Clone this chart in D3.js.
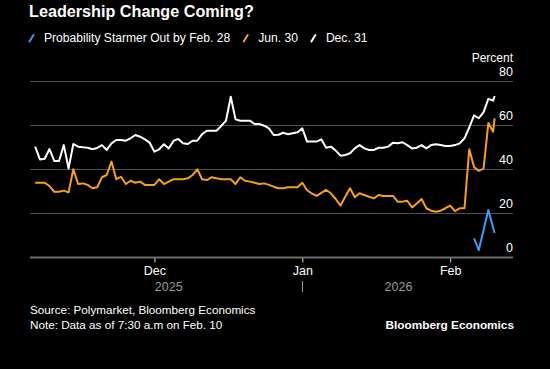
<!DOCTYPE html>
<html><head><meta charset="utf-8">
<script src="https://cdn.jsdelivr.net/npm/d3@7"></script>
<style>html,body{margin:0;padding:0;background:#000;}svg{display:block}</style>
</head><body>
<svg id="chart" width="550" height="369"></svg>
<script>
// ---------- DATA ----------
const startDate = "2025-11-06";          // first daily observation
const lastStamp = "2026-02-10T07:30";    // final intraday observation
// Dec. 31 series (daily Nov 6 .. Feb 10, then Feb 10 07:30)
const dec31Vals = [
  50.3,44.5,44.8,49.2,43.8,43.8,51,40.4,51.5,50.3,50,49.8,49.1,49.7,51,48.8,51.8,53.3,53.3,53,54.1,55.6,54.8,53.6,52.1,
  48,49.1,51.4,49.5,52.9,53.8,51.8,51.5,53,53,56,57.5,57.5,57.5,59.7,62.1,73,62.7,62.1,62.1,62.1,60.6,60.6,59.8,58.6,55.6,55.7,56.6,55.9,56.4,56.8,
  58.6,52.6,52.6,52.6,53.6,49.8,50.3,48.5,46.2,46.5,47.3,49.5,51,49.5,48.8,48.8,49.8,49.8,50.3,52.1,51.8,52.3,51,49.5,49.8,51,49.5,51,51.4,51,50.6,
  50.6,51,51.8,54.1,59,64.5,63.2,66,72,71.2,
  73.3
];
// Jun. 30 series
const jun30Vals = [
  33.9,33.9,33.9,32.4,29.8,29.8,30.3,29.5,40,33.3,33.6,32.9,31.4,31.8,36.4,37.4,43.5,35.5,36.6,33.3,34.8,33.9,34.4,32.9,32.9,
  32.9,35.5,33.3,34.4,35.5,35.5,35.5,35.9,37.4,40,35.5,35.1,36.4,35.9,35.5,35.5,35.5,33.3,36.4,34.8,34.4,33.9,33.3,33.6,32.9,32.1,31.4,31.4,31.8,31.8,31.8,
  33.9,30.5,29,27.9,29.3,30.6,29.1,26.5,23.5,27.5,31.4,27.3,29.1,28.3,27.5,26.8,28.3,27.9,27.9,27.9,25.3,25.3,25.7,22.7,24.5,26.5,22.3,21.2,20.7,21.2,22.3,
  23.5,21,22.3,22.3,49.1,41,39.3,40.3,61,57.1,
  63.2
];
// Feb. 28 series (only recent)
const feb28Dates = ["2026-02-06T00:00","2026-02-07T00:00","2026-02-09T00:00","2026-02-10T07:30"];
const feb28Vals = [8.6,3.3,21.5,11];

const yTicks = [0,20,40,60,80];
const monthTicks = ["2025-12-01","2026-01-01","2026-02-01"];
const monthLabels = ["Dec","Jan","Feb"];
const yearLabels = ["2025","2026"];
const seriesNames = ["Probability Starmer Out by Feb. 28","Jun. 30","Dec. 31"];
const seriesColors = ["#3d9cf0","#f7a11a","#ffffff"];

// ---------- SETUP ----------
const svg = d3.select("#chart");
const FONT = "'Liberation Sans', Arial, sans-serif";
const pDay = d3.timeParse("%Y-%m-%d");
const pStamp = d3.timeParse("%Y-%m-%dT%H:%M");

const start = pDay(startDate);
const dailyDates = d3.range(dec31Vals.length - 1).map(i => d3.timeDay.offset(start, i));
const allDates = dailyDates.concat([pStamp(lastStamp)]);

const plotL = 30, plotR = 513;
const x = d3.scaleTime()
  .domain([pDay("2025-11-05"), pDay("2026-02-14")])
  .range([30.4, 512.2]);
const y = d3.scaleLinear().domain([0, 80]).range([257.3, 81.3]);

// background
svg.append("rect").attr("width",550).attr("height",369).attr("fill","#000");

// title
svg.append("text").attr("x",29).attr("y",17)
  .attr("font-family",FONT).attr("font-weight","bold").attr("font-size",16.2)
  .attr("fill","#fff").text("Leadership Change Coming?");

// legend
const lg = svg.append("g");
let lx = 29;
seriesNames.forEach((name,i) => {
  lg.append("line").attr("x1",lx+0.5).attr("y1",41.5).attr("x2",lx+4.5).attr("y2",35)
    .attr("stroke",seriesColors[i]).attr("stroke-width",2).attr("stroke-linecap","round");
  const t = lg.append("text").attr("x",lx+15).attr("y",42)
    .attr("font-family",FONT).attr("font-size",12.1).attr("fill","#fff").text(name);
  lx = lx + 15 + t.node().getComputedTextLength() + 13;
});

// gridlines
svg.append("g").selectAll("line").data(yTicks.filter(d=>d>0)).join("line")
  .attr("x1",plotL).attr("x2",plotR)
  .attr("y1",d=>Math.round(y(d))+0.5).attr("y2",d=>Math.round(y(d))+0.5)
  .attr("stroke","#505050").attr("stroke-width",1);

// y labels (right)
svg.append("g").selectAll("text").data(yTicks).join("text")
  .attr("x",plotR).attr("y",d=>y(d)-5.5).attr("text-anchor","end")
  .attr("font-family",FONT).attr("font-size",12.5).attr("fill","#fff").text(d=>d);
svg.append("text").attr("x",plotR).attr("y",61.5).attr("text-anchor","end")
  .attr("font-family",FONT).attr("font-size",12).attr("fill","#fff").text("Percent");

// x axis
const xAxisG = svg.append("g").attr("transform","translate(0,257.5)");
const mt = monthTicks.map(pDay);
const xAxis = d3.axisBottom(x).tickValues(mt)
  .tickFormat((d,i)=>monthLabels[i]).tickSize(5).tickPadding(4);
xAxisG.call(xAxis);
xAxisG.select(".domain").remove();
xAxisG.selectAll(".tick line").attr("stroke","#ddd");
xAxisG.selectAll(".tick text").attr("fill","#fff").attr("font-family",FONT).attr("font-size",12.5);
svg.append("line").attr("x1",plotL).attr("x2",plotR).attr("y1",257.5).attr("y2",257.5)
  .attr("stroke","#6e6e6e").attr("stroke-width",2);

// year labels, centred over each year's data span
const yearBreak = pDay("2026-01-01");
const dataStart = allDates[0], dataEnd = allDates[allDates.length-1];
const yearSpans = [[dataStart, yearBreak],[yearBreak, dataEnd]];
svg.append("g").selectAll("text").data(yearLabels).join("text")
  .attr("x",(d,i)=>(x(yearSpans[i][0])+x(yearSpans[i][1]))/2).attr("y",290.5)
  .attr("text-anchor","middle").attr("font-family",FONT).attr("font-size",12.5)
  .attr("fill","#9a9a9a").text(d=>d);
svg.append("line").attr("x1",Math.round(x(yearBreak))+0.5).attr("x2",Math.round(x(yearBreak))+0.5)
  .attr("y1",281).attr("y2",292).attr("stroke","#9a9a9a").attr("stroke-width",1);

// lines
const line = d3.line().x(d=>x(d[0])).y(d=>y(d[1])).curve(d3.curveLinear);
const dec31 = allDates.map((d,i)=>[d, dec31Vals[i]]);
const jun30 = allDates.map((d,i)=>[d, jun30Vals[i]]);
const feb28 = feb28Dates.map((d,i)=>[pStamp(d), feb28Vals[i]]);
[[jun30, seriesColors[1]], [dec31, seriesColors[2]], [feb28, seriesColors[0]]].forEach(([data,c])=>{
  svg.append("path").datum(data).attr("d",line).attr("fill","none")
    .attr("stroke",c).attr("stroke-width",2).attr("stroke-linejoin","round");
});

// footer
svg.append("text").attr("x",30).attr("y",314)
  .attr("font-family",FONT).attr("font-size",11.7).attr("fill","#fff")
  .text("Source: Polymarket, Bloomberg Economics");
svg.append("text").attr("x",30).attr("y",329)
  .attr("font-family",FONT).attr("font-size",11.7).attr("fill","#fff")
  .text("Note: Data as of 7:30 a.m on Feb. 10");
svg.append("text").attr("x",514).attr("y",329).attr("text-anchor","end")
  .attr("font-family",FONT).attr("font-weight","bold").attr("font-size",11.8).attr("fill","#fff")
  .text("Bloomberg Economics");
</script>
</body></html>
